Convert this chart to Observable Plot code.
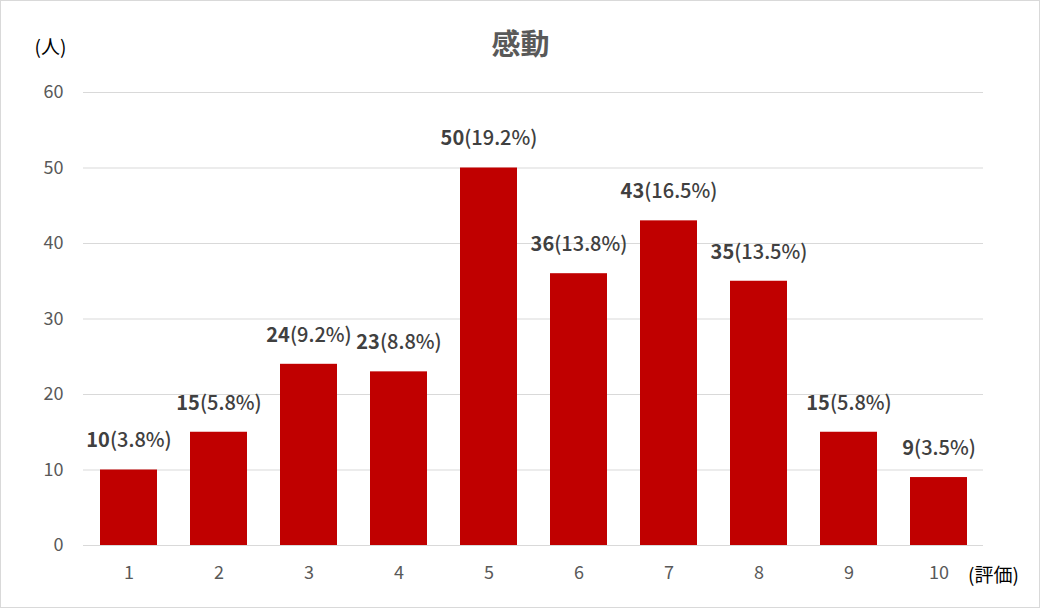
<!DOCTYPE html>
<html>
<head>
<meta charset="utf-8">
<script src="https://cdn.jsdelivr.net/npm/d3@7"></script>
<script src="https://cdn.jsdelivr.net/npm/@observablehq/plot@0.6"></script>
<style>
  html, body { margin: 0; padding: 0; background: #fff; }
  #chart svg { display: block; }
</style>
</head>
<body>
<div id="chart"></div>
<script>
const ratings = ["1","2","3","4","5","6","7","8","9","10"];
const counts = [10, 15, 24, 23, 50, 36, 43, 35, 15, 9];
const percents = ["3.8", "5.8", "9.2", "8.8", "19.2", "13.8", "16.5", "13.5", "5.8", "3.5"];
const yTicks = [0, 10, 20, 30, 40, 50, 60];
const title = "感動";
const yLabel = "(人)";
const xLabel = "(評価)";

const data = ratings.map((r, i) => ({rating: r, count: counts[i], pct: percents[i]}));

const font = "'Noto Sans CJK JP', 'Noto Sans', sans-serif";

const plot = Plot.plot({
  width: 1040,
  height: 608,
  marginTop: 92,
  marginBottom: 63,
  marginLeft: 83,
  marginRight: 57,
  style: {fontFamily: font, background: "#fff"},
  x: {domain: ratings, paddingInner: 0.367, paddingOuter: 0.1835, label: null},
  y: {domain: [0, 60], label: null},
  marks: [
    Plot.gridY(yTicks, {stroke: "#d9d9d9", strokeOpacity: 1, strokeWidth: 1}),
    Plot.barY(data, {x: "rating", y: "count", fill: "#c00000"}),
    Plot.text(data, {
      x: "rating", y: "count",
      text: d => `${d.count}|(${d.pct}%)`,
      dy: -29, lineAnchor: "middle",
      fontSize: 20, fill: "#404040",
      className: "vlabel"
    }),
    Plot.axisX({tickSize: 0, tickPadding: 21, fontSize: 18, fill: "#595959", label: null}),
    Plot.axisY(yTicks, {tickSize: 0, tickPadding: 20, fontSize: 18, fill: "#595959", label: null}),
    Plot.text([title], {frameAnchor: "top", dx: -13, dy: -47, lineAnchor: "middle", fontSize: 29, fontWeight: "bold", fill: "#595959"}),
    Plot.text([yLabel], {frameAnchor: "top-left", dx: -33, dy: -45, lineAnchor: "middle", textAnchor: "middle", fontSize: 19, fill: "#000"}),
    Plot.text([xLabel], {frameAnchor: "bottom-right", dx: 10, dy: 30, lineAnchor: "middle", textAnchor: "middle", fontSize: 19, fill: "#000"})
  ]
});

// split value labels into bold count + normal percent
d3.select(plot).selectAll("g.vlabel text").each(function() {
  const t = d3.select(this);
  const parts = t.text().split("|");
  t.text(null);
  t.append("tspan").attr("font-weight", "bold").text(parts[0]);
  t.append("tspan").attr("font-weight", "500").text(parts[1]);
});

d3.select(plot).append("rect")
  .attr("x", 0.5).attr("y", 0.5).attr("width", 1039).attr("height", 607)
  .attr("fill", "none").attr("stroke", "#d9d9d9");

document.getElementById("chart").appendChild(plot);
</script>
</body>
</html>
